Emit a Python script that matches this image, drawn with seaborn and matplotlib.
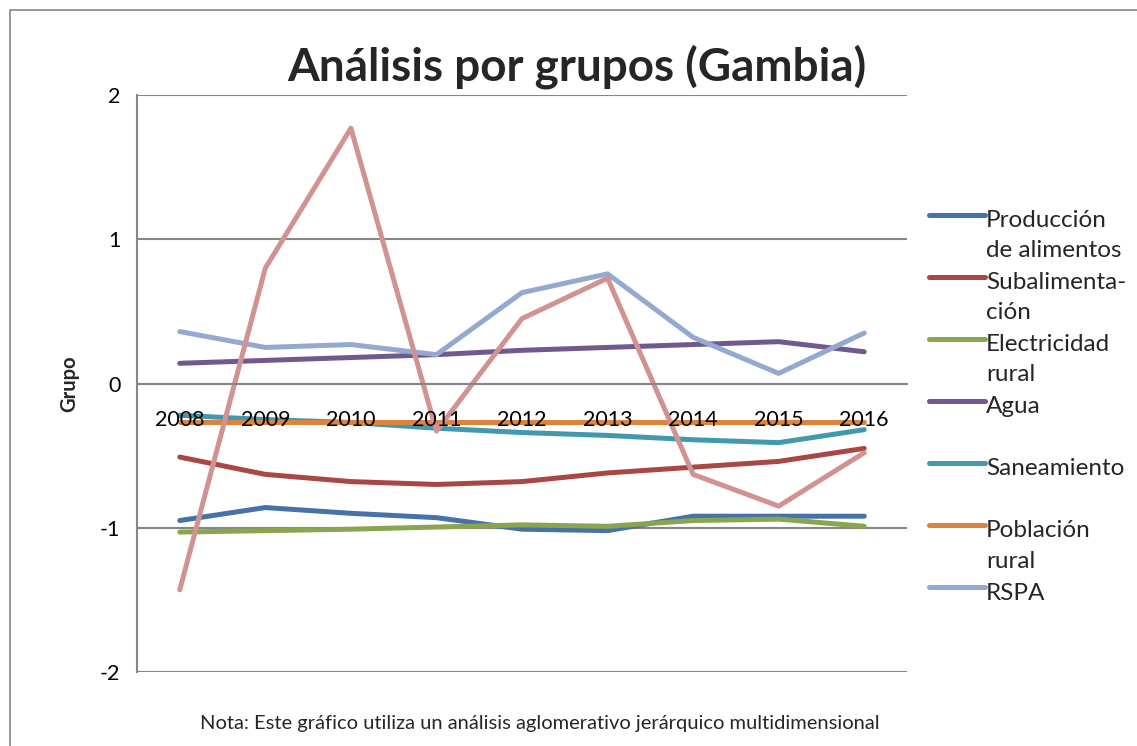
import numpy as np
import pandas as pd
import matplotlib
matplotlib.use("Agg")
import matplotlib.pyplot as plt
import seaborn as sns
from matplotlib.legend_handler import HandlerLine2D
from matplotlib.patches import Rectangle

years = [2008, 2009, 2010, 2011, 2012, 2013, 2014, 2015, 2016]
produccion = [-0.95, -0.86, -0.90, -0.93, -1.01, -1.02, -0.92, -0.92, -0.92]
subalimentacion = [-0.51, -0.63, -0.68, -0.70, -0.68, -0.62, -0.58, -0.54, -0.45]
electricidad = [-1.03, -1.02, -1.01, -0.995, -0.98, -0.99, -0.95, -0.94, -0.99]
agua = [0.14, 0.16, 0.18, 0.20, 0.23, 0.25, 0.27, 0.29, 0.22]
saneamiento = [-0.22, -0.25, -0.27, -0.31, -0.34, -0.36, -0.39, -0.41, -0.32]
poblacion = [-0.27, -0.27, -0.27, -0.27, -0.27, -0.27, -0.27, -0.27, -0.27]
rspa = [0.36, 0.25, 0.27, 0.20, 0.63, 0.76, 0.32, 0.07, 0.35]
otro = [-1.43, 0.80, 1.77, -0.33, 0.45, 0.73, -0.63, -0.85, -0.48]

series_names = ["Producción\nde alimentos", "Subalimenta-\nción", "Electricidad\nrural",
                "Agua\n ", "Saneamiento\n ", "Población\nrural", "RSPA\n ", "Serie 8"]
series_vals = [produccion, subalimentacion, electricidad, agua, saneamiento, poblacion, rspa, otro]
colors = ["#4572A7", "#AA4643", "#89A54E", "#71588F", "#4198AF", "#DB843D", "#93A9CF", "#D19392"]

df = pd.DataFrame({
    "year": np.tile(years, len(series_names)),
    "valor": np.concatenate(series_vals),
    "serie": np.repeat(series_names, len(years)),
})

sns.set_style("white")
plt.rcParams["font.family"] = ["Lato", "DejaVu Sans"]

fig = plt.figure(figsize=(11.37, 7.46), dpi=100)
ax = fig.add_axes([137/1137, 1-672/746, (907-137)/1137, (672-95)/746])

sns.lineplot(data=df, x="year", y="valor", hue="serie", hue_order=series_names,
             palette=colors, linewidth=3.6, ax=ax, legend=True, sort=False)

ax.set_xlim(2007.5, 2016.5)
ax.set_ylim(-2, 2)
ax.set_yticks([-2, -1, 0, 1, 2])
ax.set_yticklabels(["-2", "-1", "0", "1", "2"])
ax.set_xticks(years)
ax.set_xticklabels([str(y) for y in years])
ax.grid(axis="y", color="#868686", linewidth=1.5)
ax.grid(axis="x", visible=False)
for s in ["top", "right"]:
    ax.spines[s].set_visible(False)
ax.spines["left"].set_color("#868686")
ax.spines["left"].set_linewidth(1.5)
ax.spines["bottom"].set_position(("data", 0))
ax.spines["bottom"].set_color("#868686")
ax.spines["bottom"].set_linewidth(1.5)
ax.tick_params(axis="both", length=0, labelsize=15.5, colors="black")
ax.tick_params(axis="y", pad=12)
ax.tick_params(axis="x", pad=19)
ax.xaxis.set_zorder(5)
ax.set_xlabel("")
ax.set_ylabel("Grupo", fontsize=14.5, fontweight="bold", labelpad=15)


class UpHandler(HandlerLine2D):
    def create_artists(self, legend, orig_handle, xdescent, ydescent, width, height, fontsize, trans):
        arts = super().create_artists(legend, orig_handle, xdescent, ydescent, width, height, fontsize, trans)
        for a in arts:
            a.set_ydata(np.asarray(a.get_ydata(), dtype=float) + 0.86 * fontsize)
        return arts


handles, labels = ax.get_legend_handles_labels()
hl = [(h, l) for h, l in zip(handles, labels) if l != "Serie 8"]
hs = [h for h, _ in hl]
for h in hs:
    h.set_linewidth(3.6)
ls = [l for _, l in hl]
leg = ax.legend(hs, ls, loc="upper left", bbox_to_anchor=(907/1137, 1-188/746),
                bbox_transform=fig.transFigure, frameon=False, fontsize=17.5,
                handlelength=2.3, handletextpad=0.06, labelspacing=0.45,
                handler_map={matplotlib.lines.Line2D: UpHandler()})
for t in leg.get_texts():
    t.set_linespacing(1.54)

fig.text(577/1137, 1-67/746, "Análisis por grupos (Gambia)", ha="center", va="center",
         fontsize=33, fontweight="bold")
fig.text(540/1137, 1-724/746,
         "Nota: Este gráfico utiliza un análisis aglomerativo jerárquico multidimensional",
         ha="center", va="center", fontsize=14.5)

fig.add_artist(Rectangle((10/1137, -0.05), 1.2, 1-10/746 + 0.05, transform=fig.transFigure,
                         fill=False, edgecolor="#888888", linewidth=1.2, clip_on=False))

fig.savefig("out.png", dpi=100)
